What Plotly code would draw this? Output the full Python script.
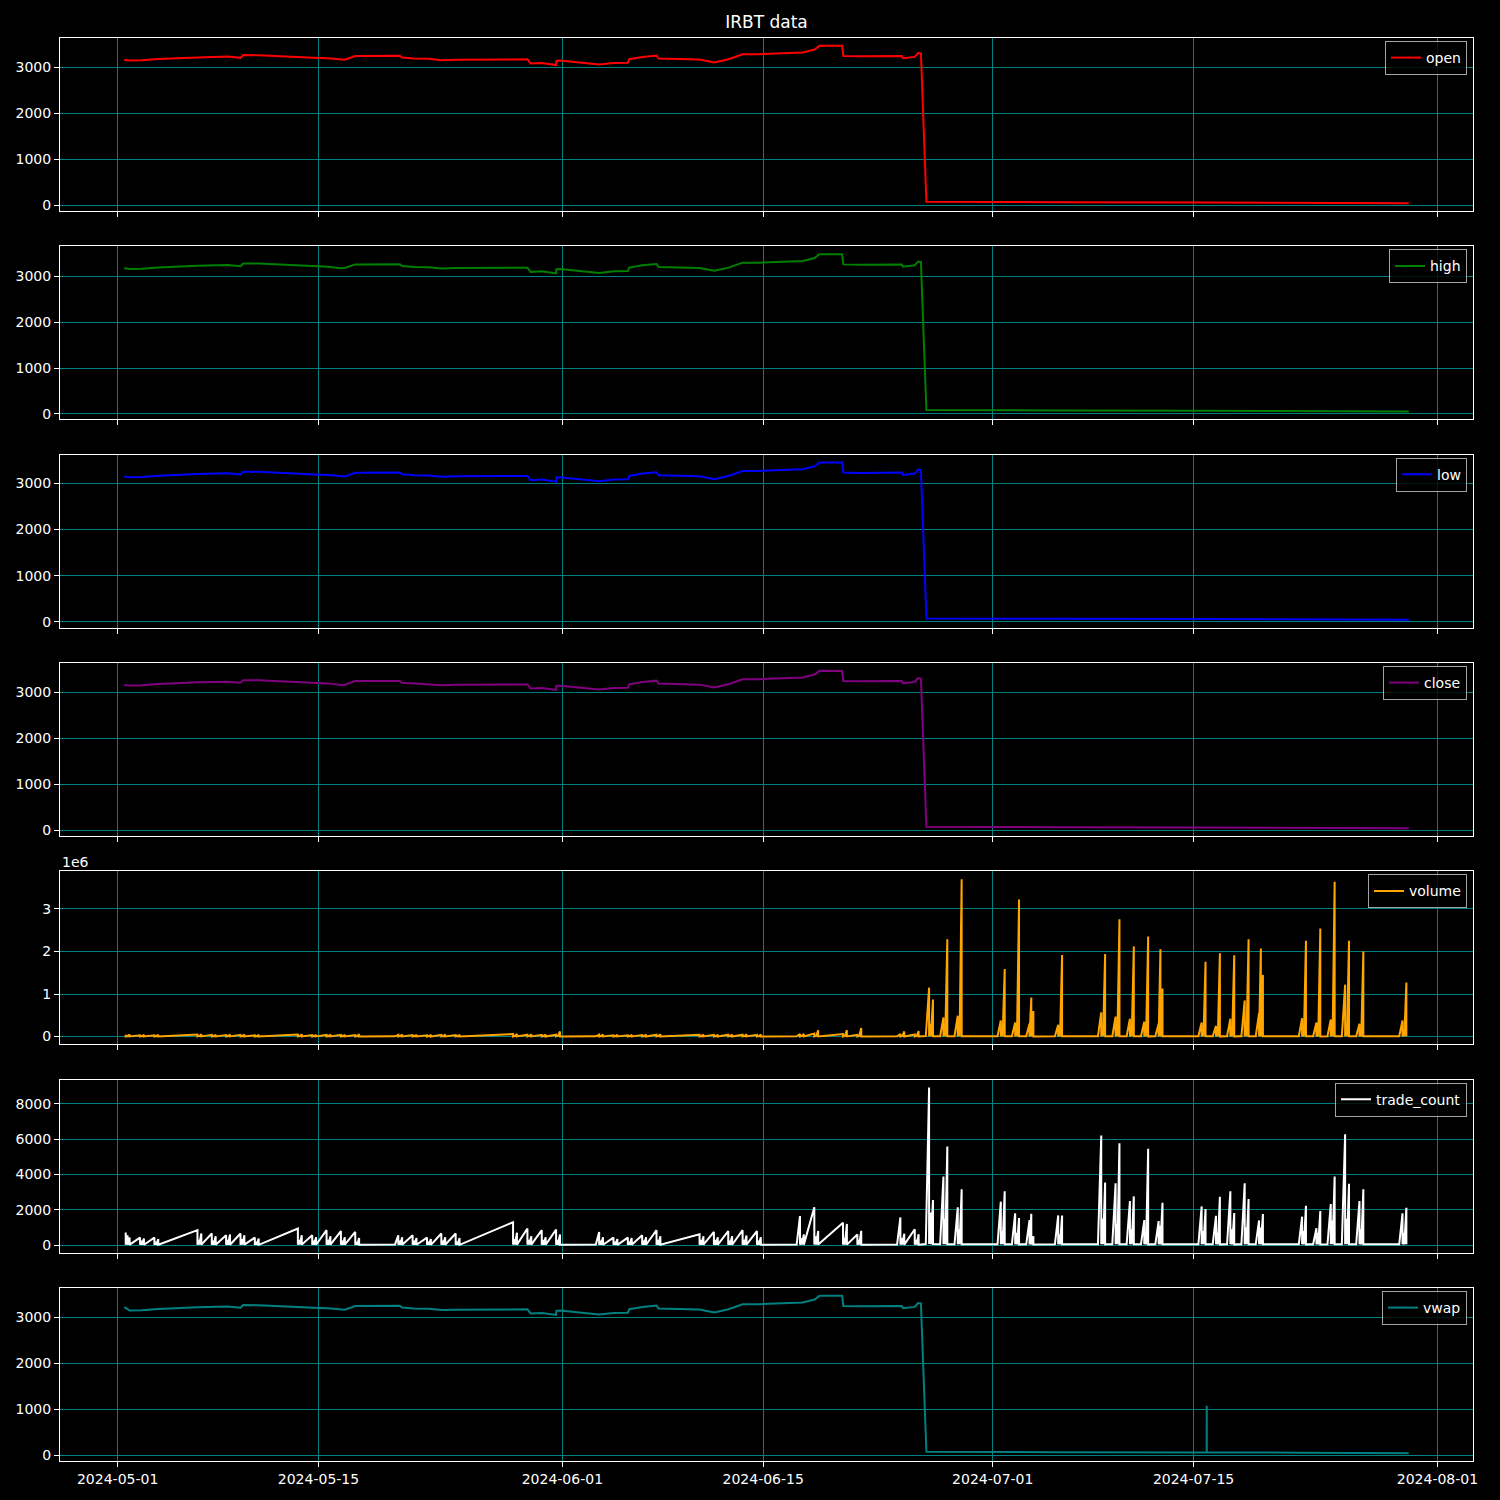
import plotly.graph_objects as go
from plotly.subplots import make_subplots
import pandas as pd

# ---------------- price-type series (open/high/low/close/vwap) ----------------
price_times = [
    "2024-05-01 11:00", "2024-05-01 20:00", "2024-05-02 16:00", "2024-05-03 14:00", "2024-05-03 20:00",
    "2024-05-06 13:30", "2024-05-07 16:00", "2024-05-08 16:00", "2024-05-09 13:30", "2024-05-09 18:00",
    "2024-05-10 20:00", "2024-05-13 13:30", "2024-05-14 16:00", "2024-05-15 16:00", "2024-05-16 13:30",
    "2024-05-16 20:00", "2024-05-17 13:30", "2024-05-20 16:00", "2024-05-20 20:00", "2024-05-21 16:00",
    "2024-05-22 16:00", "2024-05-23 14:00", "2024-05-24 14:00", "2024-05-28 14:00", "2024-05-29 13:30",
    "2024-05-29 19:00", "2024-05-30 14:00", "2024-05-31 13:30", "2024-05-31 14:00", "2024-05-31 20:00",
    "2024-06-03 13:30", "2024-06-04 14:00", "2024-06-05 13:30", "2024-06-05 16:00", "2024-06-06 14:00",
    "2024-06-07 13:30", "2024-06-07 17:00", "2024-06-10 13:30", "2024-06-11 14:00", "2024-06-12 14:00",
    "2024-06-13 13:30", "2024-06-14 16:00", "2024-06-17 18:00", "2024-06-18 14:00", "2024-06-18 20:00",
    "2024-06-18 22:00", "2024-06-20 12:00", "2024-06-20 14:00", "2024-06-21 16:00", "2024-06-24 16:00",
    "2024-06-24 18:00", "2024-06-25 13:30", "2024-06-25 19:00", "2024-06-25 23:50", "2024-06-26 09:00",
    "2024-06-28 16:00", "2024-07-05 16:00", "2024-07-15 21:55", "2024-07-15 22:00", "2024-07-15 22:05",
    "2024-07-22 16:00", "2024-07-25 16:00", "2024-07-29 23:59",
]
open_px = [3160, 3148, 3150, 3180, 3178, 3215, 3225, 3232, 3205, 3265,
           3262, 3215, 3205, 3195, 3160, 3165, 3245, 3248, 3210, 3190,
           3185, 3155, 3166, 3165, 3172, 3080, 3095, 3050, 3140, 3145,
           3060, 3095, 3100, 3175, 3225, 3254, 3190, 3168, 3105, 3175,
           3283, 3283, 3320, 3385, 3440, 3465, 3465, 3246, 3240, 3246,
           3195, 3225, 3310, 3300, 80, 76, 72, 66, 66, 66,
           61, 57, 50]
high_px = [3172, 3160, 3162, 3192, 3190, 3228, 3238, 3245, 3218, 3278,
           3275, 3228, 3218, 3208, 3172, 3178, 3258, 3260, 3222, 3202,
           3198, 3168, 3178, 3178, 3185, 3092, 3108, 3062, 3152, 3158,
           3072, 3108, 3112, 3188, 3238, 3268, 3202, 3180, 3118, 3188,
           3296, 3296, 3332, 3398, 3455, 3480, 3478, 3258, 3252, 3258,
           3208, 3238, 3322, 3312, 84, 80, 76, 70, 70, 70,
           65, 61, 54]
low_px = [3148, 3136, 3138, 3168, 3166, 3202, 3212, 3220, 3192, 3252,
          3250, 3202, 3192, 3182, 3148, 3152, 3232, 3236, 3198, 3178,
          3172, 3142, 3154, 3152, 3160, 3068, 3082, 3038, 3128, 3132,
          3048, 3082, 3088, 3162, 3212, 3240, 3178, 3156, 3092, 3162,
          3270, 3270, 3308, 3372, 3426, 3452, 3452, 3234, 3228, 3234,
          3182, 3212, 3298, 3288, 76, 72, 68, 62, 62, 62,
          57, 53, 46]
close_px = [3158, 3150, 3152, 3181, 3178, 3217, 3226, 3231, 3206, 3264,
            3261, 3214, 3204, 3194, 3161, 3166, 3244, 3247, 3209, 3191,
            3184, 3156, 3165, 3166, 3171, 3081, 3094, 3051, 3141, 3144,
            3061, 3096, 3101, 3174, 3226, 3253, 3191, 3167, 3106, 3176,
            3282, 3284, 3321, 3386, 3441, 3466, 3464, 3247, 3239, 3247,
            3196, 3224, 3311, 3299, 79, 75, 71, 65, 65, 65,
            60, 56, 49]
vwap_px = [3220, 3149, 3151, 3180, 3178, 3216, 3225, 3232, 3206, 3265,
           3262, 3215, 3205, 3195, 3161, 3165, 3245, 3248, 3210, 3190,
           3185, 3156, 3166, 3165, 3172, 3081, 3095, 3051, 3140, 3145,
           3061, 3095, 3100, 3175, 3225, 3254, 3190, 3168, 3105, 3175,
           3283, 3283, 3320, 3385, 3440, 3465, 3465, 3246, 3240, 3246,
           3195, 3225, 3310, 3300, 80, 76, 72, 66, 1080, 66,
           61, 57, 50]

# ---------------- activity series (volume / trade_count), per trading day ----------------
trade_days = [
    "2024-05-01", "2024-05-02", "2024-05-03", "2024-05-06", "2024-05-07", "2024-05-08", "2024-05-09", "2024-05-10",
    "2024-05-13", "2024-05-14", "2024-05-15", "2024-05-16", "2024-05-17", "2024-05-20", "2024-05-21", "2024-05-22",
    "2024-05-23", "2024-05-24", "2024-05-28", "2024-05-29", "2024-05-30", "2024-05-31", "2024-06-03", "2024-06-04",
    "2024-06-05", "2024-06-06", "2024-06-07", "2024-06-10", "2024-06-11", "2024-06-12", "2024-06-13", "2024-06-14",
    "2024-06-17", "2024-06-18", "2024-06-20", "2024-06-21", "2024-06-24", "2024-06-25",
    "2024-06-26", "2024-06-27", "2024-06-28", "2024-07-01", "2024-07-02", "2024-07-03", "2024-07-05", "2024-07-08",
    "2024-07-09", "2024-07-10", "2024-07-11", "2024-07-12", "2024-07-15", "2024-07-16", "2024-07-17", "2024-07-18",
    "2024-07-19", "2024-07-22", "2024-07-23", "2024-07-24", "2024-07-25", "2024-07-26", "2024-07-29",
]
# bar times (UTC) inside each session: premarket, open, after-open, midday, after-midday, close, closing print, after-close
bar_times = ["08:00", "13:30", "13:31", "16:30", "16:31", "19:59", "20:00", "20:01"]

tc_pre = [None, None, None, None, None, None, None, None, None, None,
          None, None, None, 40, None, None, None, None, None, None,
          None, None, 40, None, None, None, None, None, None, None,
          None, None, 40, None, None, None, 40, None,
          60, 50, 50, 50, 50, 50, 50, 50, 50, 50, 50, 50, 50, 50, 50, 50, 50, 50, 50, 50, 50, 50, 50]
tc_open = [720, 430, 430, 850, 660, 560, 660, 430, 940, 560,
           850, 800, 750, 560, 560, 430, 660, 660, 1300, 940,
           850, 880, 750, 430, 430, 560, 850, 620, 750, 800,
           850, 800, 1645, 2140, 1267, 600, 1570, 900,
           8920, 3880, 2140, 2460, 1800, 1420, 1680, 6200, 3500, 2500,
           1420, 1360, 2190, 1660, 3050, 3500, 1400, 1610, 960, 2330,
           6280, 2500, 1800]
tc_mid = [560, 250, 200, 300, 250, 300, 350, 200, 300, 250,
          300, 250, 200, 250, 250, 200, 250, 200, 350, 300,
          300, 300, 250, 200, 200, 250, 300, 300, 300, 250,
          300, 250, 400, 500, 400, 300, 400, 300,
          1850, 1500, 900, 800, 700, 1780, 600, 1500, 1200, 900,
          700, 1100, 800, 700, 900, 1000, 1000, 800, 700, 1400,
          1500, 900, 700]
tc_close = [430, 380, 350, 660, 500, 600, 560, 380, 560, 450,
            500, 450, 400, 450, 400, 350, 450, 400, 700, 500,
            450, 600, 450, 350, 400, 450, 500, 500, 450, 500,
            550, 450, 600, 800, 1200, 810, 650, 620,
            2550, 5580, 3160, 3050, 1530, 500, 1680, 3540, 5770, 2760,
            5460, 2400, 2040, 2740, 1820, 2610, 1760, 2230, 1930, 3880,
            3480, 3160, 2120]
tc_post = [120, 100, 80, 150, 100, 120, 100, 80, 120, 100,
           100, 100, 80, 100, 80, 80, 100, 80, 150, 120,
           100, 100, 80, 80, 80, 100, 100, 100, 100, 100,
           100, 80, 100, 150, 200, 120, 120, 100,
           600, 3540, 800, 600, 400, 200, 300, 800, 1000, 600,
           900, 500, 500, 500, 400, 600, 400, 500, 400, 800,
           700, 600, 400]
tc_low = [30, 25, 20, 30, 25, 25, 30, 20, 30, 25,
          25, 25, 20, 25, 25, 20, 25, 20, 30, 30,
          25, 25, 25, 20, 20, 25, 25, 25, 25, 25,
          25, 20, 30, 30, 30, 25, 30, 30,
          60, 55, 50, 50, 45, 40, 45, 55, 50, 50,
          45, 45, 50, 45, 45, 50, 45, 45, 40, 50,
          55, 45, 45]

vol_pre = [None, None, None, None, None, None, None, None, None, None,
           None, None, None, 5000, None, None, None, None, None, None,
           None, None, 5000, None, None, None, None, None, None, None,
           None, None, 5000, None, None, None, 5000, None,
           12000, 9000, 8000, 8000, 7000, 6000, 7000, 9000, 8000, 8000,
           7000, 7000, 8000, 7000, 7000, 8000, 7000, 7000, 6000, 8000,
           9000, 7000, 7000]
vol_open = [45000, 30000, 30000, 50000, 40000, 35000, 40000, 30000, 50000, 35000,
            40000, 40000, 35000, 40000, 35000, 30000, 40000, 35000, 60000, 45000,
            40000, 45000, 45000, 30000, 30000, 35000, 45000, 40000, 40000, 45000,
            45000, 40000, 60000, 70000, 60000, 40000, 60000, 50000,
            1150000, 450000, 490000, 380000, 330000, 300000, 280000, 570000, 470000, 420000,
            350000, 300000, 330000, 250000, 420000, 850000, 550000, 430000, 330000, 400000,
            1220000, 300000, 380000]
vol_mid = [15000, 12000, 12000, 18000, 15000, 15000, 15000, 12000, 18000, 14000,
           15000, 15000, 12000, 15000, 14000, 12000, 15000, 12000, 20000, 16000,
           15000, 16000, 15000, 12000, 12000, 14000, 16000, 15000, 15000, 16000,
           16000, 14000, 20000, 25000, 22000, 15000, 20000, 18000,
           300000, 120000, 150000, 120000, 100000, 920000, 90000, 150000, 130000, 120000,
           110000, 2050000, 100000, 90000, 110000, 200000, 2070000, 120000, 100000, 120000,
           250000, 100000, 100000]
vol_close = [50000, 40000, 45000, 55000, 45000, 50000, 50000, 40000, 55000, 45000,
             50000, 45000, 55000, 50000, 45000, 40000, 50000, 45000, 60000, 55000,
             50000, 120000, 50000, 40000, 45000, 50000, 55000, 50000, 45000, 50000,
             55000, 50000, 60000, 150000, 150000, 200000, 120000, 130000,
             870000, 2290000, 3700000, 1590000, 3220000, 600000, 1920000, 1940000, 2760000, 2120000,
             2350000, 1130000, 1760000, 1960000, 1910000, 2290000, 1450000, 2250000, 2540000, 3640000,
             2250000, 2000000, 1270000]
vol_post = [10000, 8000, 8000, 12000, 10000, 10000, 10000, 8000, 12000, 9000,
            10000, 10000, 8000, 10000, 9000, 8000, 10000, 8000, 12000, 10000,
            10000, 20000, 10000, 8000, 8000, 9000, 10000, 10000, 9000, 10000,
            10000, 9000, 12000, 30000, 30000, 40000, 25000, 25000,
            150000, 1550000, 400000, 250000, 300000, 80000, 200000, 300000, 350000, 300000,
            300000, 200000, 250000, 250000, 250000, 300000, 200000, 300000, 300000, 400000,
            300000, 250000, 200000]
vol_low = [3000, 2500, 2500, 3000, 2500, 2500, 3000, 2000, 3000, 2500,
           2500, 2500, 2000, 2500, 2500, 2000, 2500, 2000, 3000, 3000,
           2500, 2500, 2500, 2000, 2000, 2500, 2500, 2500, 2500, 2500,
           2500, 2000, 3000, 3000, 3000, 2500, 3000, 3000,
           6000, 5000, 5000, 5000, 4500, 4000, 4500, 5500, 5000, 5000,
           4500, 4500, 5000, 4500, 4500, 5000, 4500, 4500, 4000, 5000,
           5500, 4500, 4500]

for arr in (open_px, high_px, low_px, close_px, vwap_px):
    assert len(arr) == len(price_times)
for arr in (tc_pre, tc_open, tc_mid, tc_close, tc_post, tc_low,
            vol_pre, vol_open, vol_mid, vol_close, vol_post, vol_low):
    assert len(arr) == len(trade_days), len(arr)


def session_series(pre, op, mid, cl, post, low):
    xs, ys = [], []
    for i, d in enumerate(trade_days):
        vals = [pre[i], op[i], low[i], mid[i], low[i], cl[i], post[i], low[i]]
        for t, v in zip(bar_times, vals):
            if v is None:
                continue
            xs.append(f"{d} {t}")
            ys.append(v)
    return xs, ys


tc_x, tc_y = session_series(tc_pre, tc_open, tc_mid, tc_close, tc_post, tc_low)
vol_x, vol_y = session_series(vol_pre, vol_open, vol_mid, vol_close, vol_post, vol_low)

panels = [
    ("open", price_times, open_px, "#ff0000"),
    ("high", price_times, high_px, "#008000"),
    ("low", price_times, low_px, "#0000ff"),
    ("close", price_times, close_px, "#800080"),
    ("volume", vol_x, vol_y, "#ffa500"),
    ("trade_count", tc_x, tc_y, "#ffffff"),
    ("vwap", price_times, vwap_px, "#008080"),
]
price_ticks = [0, 1000, 2000, 3000]
vol_ticks = [0, 1e6, 2e6, 3e6]
vol_tick_text = ["0", "1", "2", "3"]
tc_ticks = [0, 2000, 4000, 6000, 8000]
date_ticks = ["2024-05-01", "2024-05-15", "2024-06-01", "2024-06-15", "2024-07-01", "2024-07-15", "2024-08-01"]

# ---------------- figure ----------------
W = H = 1500
ML, MR, MT, MB = 60, 27, 38, 39
plot_h = H - MT - MB
plot_w = W - ML - MR
gap = 35.33

fig = make_subplots(rows=7, cols=1, shared_xaxes=True, vertical_spacing=gap / plot_h)

GRID = "#008080"
FONT = "DejaVu Sans"

all_x = pd.to_datetime(pd.Series(price_times + tc_x + vol_x))
xmin, xmax = all_x.min(), all_x.max()
xpad = (xmax - xmin) * 0.05
xrange = [xmin - xpad, xmax + xpad]

for i, (name, xs, ys, color) in enumerate(panels):
    row = i + 1
    leg = "legend" if row == 1 else f"legend{row}"
    fig.add_trace(
        go.Scatter(x=xs, y=ys, mode="lines", name=name,
                   line=dict(color=color, width=2), legend=leg, showlegend=True),
        row=row, col=1,
    )
    lo, hi = min(ys), max(ys)
    pad = (hi - lo) * 0.05
    if name == "volume":
        tv, tt = vol_ticks, vol_tick_text
    elif name == "trade_count":
        tv, tt = tc_ticks, [str(v) for v in tc_ticks]
    else:
        tv, tt = price_ticks, [str(v) for v in price_ticks]
    fig.update_yaxes(
        range=[lo - pad, hi + pad], tickvals=tv, ticktext=tt,
        showgrid=True, gridcolor=GRID, gridwidth=1, zeroline=False,
        showline=True, mirror=True, linecolor="white", linewidth=1,
        ticks="outside", ticklen=5, tickwidth=1, tickcolor="white",
        tickfont=dict(family=FONT, size=14, color="white"),
        row=row, col=1,
    )
    fig.update_xaxes(
        type="date", range=xrange, tickvals=date_ticks, tickformat="%Y-%m-%d",
        showgrid=True, gridcolor=GRID, gridwidth=1, zeroline=False,
        showline=True, mirror=True, linecolor="white", linewidth=1,
        ticks="outside", ticklen=5, tickwidth=1, tickcolor="white",
        showticklabels=(row == 7),
        tickfont=dict(family=FONT, size=14, color="white"),
        row=row, col=1,
    )
    # legend in upper-right corner of each panel
    dom = fig.layout[f"yaxis{'' if row == 1 else row}"].domain
    fig.update_layout(**{leg: dict(
        x=1 - 6 / plot_w, y=dom[1] - 3 / plot_h, xanchor="right", yanchor="top",
        xref="paper", yref="paper",
        bgcolor="rgba(0,0,0,0.8)", bordercolor="rgba(204,204,204,0.8)", borderwidth=1,
        font=dict(family=FONT, size=14, color="white"),
        itemwidth=30,
    )})

# offset label of the volume axis
vol_dom = fig.layout["yaxis5"].domain
fig.add_annotation(text="1e6", xref="paper", yref="paper", x=0, y=vol_dom[1] + 9 / plot_h,
                   xanchor="left", yanchor="middle", showarrow=False,
                   font=dict(family=FONT, size=14, color="white"))

fig.update_layout(
    width=W, height=H,
    margin=dict(l=ML, r=MR, t=MT, b=MB),
    paper_bgcolor="black", plot_bgcolor="black",
    font=dict(family=FONT, size=14, color="white"),
    title=dict(text="IRBT data", x=0.5, xref="paper", xanchor="center",
               y=1 - 22 / H, yref="container", yanchor="middle",
               font=dict(family=FONT, size=17, color="white")),
)

fig.write_html("out.html", config={"displayModeBar": False})
